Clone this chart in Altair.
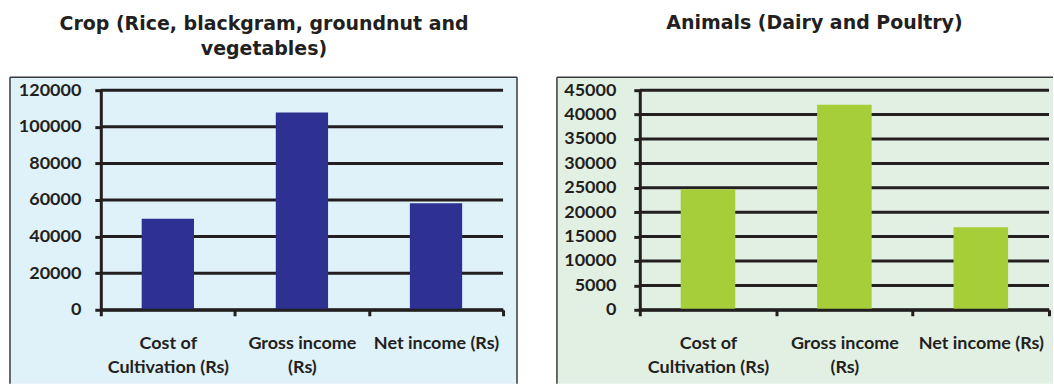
import altair as alt
import pandas as pd

categories = ["Cost of Cultivation (Rs)", "Gross income (Rs)", "Net income (Rs)"]
crop_values = [49700, 107800, 58200]
animal_values = [24700, 42000, 16900]
crop_ticks = [0, 20000, 40000, 60000, 80000, 100000, 120000]
animal_ticks = [0, 5000, 10000, 15000, 20000, 25000, 30000, 35000, 40000, 45000]
crop_title = ["Crop (Rice, blackgram, groundnut and", "vegetables)"]
animal_title = "Animals (Dairy and Poultry)"

INK = "#231f20"
LABEL_EXPR = (
    "datum.value == 'Cost of Cultivation (Rs)' ? ['Cost of', 'Cultivation (Rs)'] : "
    "datum.value == 'Gross income (Rs)' ? ['Gross income', '(Rs)'] : datum.value"
)


def panel(values, ticks, ymax, color, fill, title, W, H, box, ylabpad, band, title_offset, title_dx, right_border):
    x0, x1, top, bottom = box
    df = pd.DataFrame({"cat": categories, "val": values})
    x_enc = alt.X(
        "cat:N", sort=categories, title=None,
        scale=alt.Scale(paddingInner=0, paddingOuter=0),
        axis=alt.Axis(labelExpr=LABEL_EXPR, labelAngle=0, tickBand="extent", labelLimit=300,
                      labelPadding=19, labelLineHeight=24, zindex=1),
    )
    y_enc = alt.Y(
        "val:Q", title=None,
        scale=alt.Scale(domain=[0, ymax], nice=False, zero=True),
        axis=alt.Axis(values=ticks, grid=False, labelPadding=ylabpad, zindex=1, format="d"),
    )
    bg = alt.Chart(alt.Data(values=[{}])).mark_rect(fill=fill).encode(
        x=alt.value(x0), x2=alt.value(x1), y=alt.value(-top), y2=alt.value(bottom)
    )
    border_left = alt.Chart(alt.Data(values=[{}])).mark_rule(color="#3a3a3a", strokeWidth=1.5).encode(
        x=alt.value(x0), y=alt.value(-top), y2=alt.value(bottom)
    )
    border_top = alt.Chart(alt.Data(values=[{}])).mark_rule(color="#3a3a3a", strokeWidth=1.5).encode(
        x=alt.value(x0), x2=alt.value(x1), y=alt.value(-top)
    )
    layers = [bg, border_left, border_top]
    if right_border:
        layers.append(
            alt.Chart(alt.Data(values=[{}])).mark_rule(color="#3a3a3a", strokeWidth=1.5).encode(
                x=alt.value(x1), y=alt.value(-top), y2=alt.value(bottom)
            )
        )
    grid = alt.Chart(pd.DataFrame({"val": ticks})).mark_rule(color=INK, strokeWidth=3).encode(
        y=y_enc, x=alt.value(0), x2=alt.value(W)
    )
    bars = alt.Chart(df).mark_bar(color=color, width=alt.RelativeBandSize(band)).encode(x=x_enc, y=y_enc)
    layers += [grid, bars]
    return alt.layer(*layers).properties(
        width=W, height=H,
        title=alt.TitleParams(
            text=title, font="DejaVu Sans", fontSize=19, fontWeight="bold", color=INK,
            lineHeight=26, anchor="middle", offset=title_offset, dx=title_dx,
        ),
    )


H = 220
left = panel(crop_values, crop_ticks, 120000, "#2e3192", "#dff1f9", crop_title, 403, H,
             (-91, 417, 13, 294), 14, 0.39, 17, -38, True)
right = panel(animal_values, animal_ticks, 45000, "#a6ce39", "#e2f0e3", animal_title, 410, H,
              (-83, 414, 13, 294), 18, 0.40, 44, -30, False)

chart = alt.hconcat(left, right, spacing=137, bounds="flush").properties(
    padding={"left": 9, "top": 13, "right": 0, "bottom": 0}
).configure_view(stroke=None).configure_axis(
    labelFont="Lato", labelFontSize=18, labelFontWeight="bold", labelColor=INK,
    domainColor=INK, domainWidth=3, tickColor=INK, tickWidth=3, tickSize=6,
)

chart.save("out.html", embed_options={"renderer": "svg", "actions": False})
